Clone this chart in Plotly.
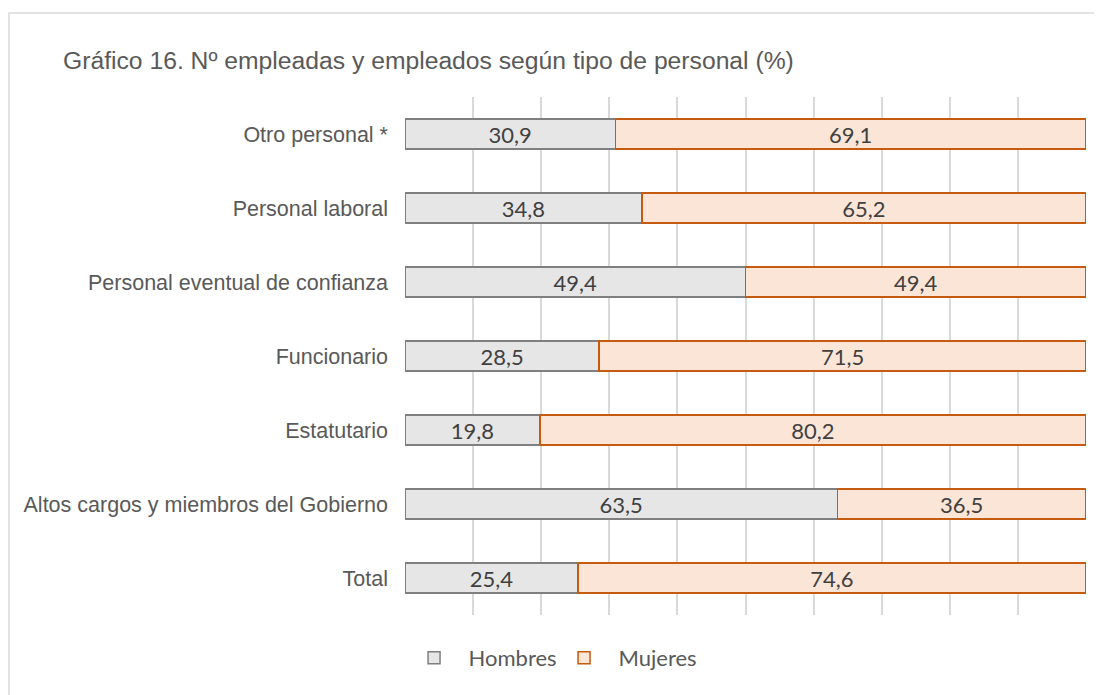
import plotly.graph_objects as go

# categories top to bottom as in the chart
categorias = [
    "Otro personal *",
    "Personal laboral",
    "Personal eventual de confianza",
    "Funcionario",
    "Estatutario",
    "Altos cargos y miembros del Gobierno",
    "Total",
]
hombres = [30.9, 34.8, 49.4, 28.5, 19.8, 63.5, 25.4]
mujeres = [69.1, 65.2, 49.4, 71.5, 80.2, 36.5, 74.6]

# 100% stacked, like the original Excel chart
tot = [h + m for h, m in zip(hombres, mujeres)]
h_pct = [h / t * 100 for h, t in zip(hombres, tot)]
m_pct = [m / t * 100 for m, t in zip(mujeres, tot)]


def fmt(v):
    return f"{v:.1f}".replace(".", ",")


label_font = dict(family="Lato", size=22, color="#404040")

fig = go.Figure()
fig.add_trace(go.Bar(
    y=categorias, x=h_pct, orientation="h", name="Hombres",
    marker=dict(color="#e7e6e6", line=dict(color="#7f7f7f", width=1.5)),
    text=[fmt(v) for v in hombres], textposition="inside",
    insidetextanchor="middle", textfont=label_font, constraintext="none",
    hoverinfo="skip",
))
fig.add_trace(go.Bar(
    y=categorias, x=m_pct, orientation="h", name="Mujeres",
    marker=dict(color="#fbe5d6", line=dict(color="#c55a11", width=1.5)),
    text=[fmt(v) for v in mujeres], textposition="inside",
    insidetextanchor="middle", textfont=label_font, constraintext="none",
    hoverinfo="skip",
))

# the page body adds 8px offset, so positions are 8px less than in the picture
fig.update_layout(
    width=1102, height=695,
    barmode="stack",
    bargap=0.59,
    plot_bgcolor="white",
    paper_bgcolor="white",
    margin=dict(l=397, r=24, t=89, b=88),
    title=dict(
        text="Gráfico 16. Nº empleadas y empleados según tipo de personal (%)",
        x=55 / 1102, xanchor="left", y=1 - 52 / 695, yanchor="middle",
        font=dict(family="Liberation Sans", size=24.7, color="#595959"),
    ),
    legend=dict(
        orientation="h", x=-0.008, xanchor="left", y=-0.083, yanchor="middle",
        font=dict(family="Lato", size=22, color="#595959"),
        traceorder="normal", itemwidth=59,
        entrywidth=76, entrywidthmode="pixels",
    ),
    xaxis=dict(
        range=[0, 100], dtick=10, showgrid=True, gridcolor="#d9d9d9",
        gridwidth=1.5, showticklabels=False, zeroline=False, showline=False,
        fixedrange=True,
    ),
    yaxis=dict(
        autorange="reversed", showgrid=False, showline=False,
        ticklabelstandoff=16,
        tickfont=dict(family="Liberation Sans", size=21.5, color="#595959"),
    ),
)

# light outer frame of the chart area (cut at right and bottom like the image)
fig.add_shape(
    type="rect", xref="paper", yref="paper",
    x0=(1 - 397) / 681, x1=1.2, y0=-0.5, y1=1 + (89 - 5) / 518,
    line=dict(color="#d9d9d9", width=1.5), layer="below",
)

fig.write_html("out.html")
